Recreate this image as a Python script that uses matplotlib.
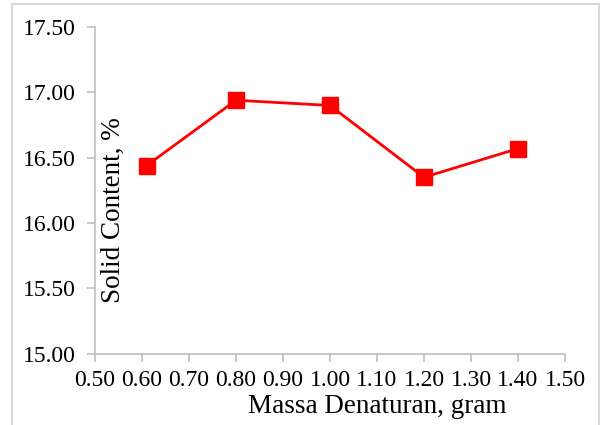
import matplotlib
matplotlib.use("Agg")
import matplotlib.pyplot as plt
from matplotlib.patches import Rectangle

massa = [0.61, 0.80, 1.00, 1.20, 1.40]
solid = [16.44, 16.94, 16.90, 16.35, 16.57]
x_ticks = [0.5 + 0.1 * k for k in range(11)]
y_ticks = [15.0, 15.5, 16.0, 16.5, 17.0, 17.5]

plt.rcParams.update({"font.family": ["Liberation Serif", "DejaVu Serif"], "font.size": 17})
AXIS_GREY = "#bfbfbf"

fig = plt.figure(figsize=(6, 4.25), dpi=100)
ax = fig.add_axes([95 / 600, 1 - 353.6 / 425, 470 / 600, 326.5 / 425])

ax.plot(massa, solid, color="#ff0000", lw=2, marker="s", ms=11, mec="#ff0000", mfc="#ff0000")

ax.set_xlim(0.5, 1.5)
ax.set_ylim(15.0, 17.5)
ax.set_xticks(x_ticks)
ax.set_yticks(y_ticks)
ax.set_xticklabels([f"{v:.2f}" for v in x_ticks])
ax.set_yticklabels([f"{v:.2f}" for v in y_ticks])
for side in ("top", "right"):
    ax.spines[side].set_visible(False)
for side in ("left", "bottom"):
    ax.spines[side].set_color(AXIS_GREY)
    ax.spines[side].set_linewidth(1.2)
ax.tick_params(axis="both", direction="out", length=6, width=1.2, color=AXIS_GREY,
               labelcolor="black")
ax.tick_params(axis="y", pad=8)
ax.tick_params(axis="x", pad=6)

# axis titles sit where the source chart puts them (y title inside the plot area)
ax.set_xlabel("Massa Denaturan, gram", fontsize=19.5)
ax.xaxis.set_label_coords((377 - 95) / 470, -(394 - 353.6) / 326.5, transform=ax.transAxes)
ax.set_ylabel("Solid Content, %", fontsize=19.5)
ax.yaxis.set_label_coords((126 - 95) / 470, (353.6 - 210) / 326.5, transform=ax.transAxes)

# light frame around the chart area, as in the source document
fig.patches.append(Rectangle((12 / 600, -0.05), 587 / 600, 1.05 - 4.5 / 425,
                             transform=fig.transFigure, fill=False,
                             edgecolor="#d9d9d9", lw=1.5))

fig.savefig("out.png", dpi=100)
plt.close(fig)
